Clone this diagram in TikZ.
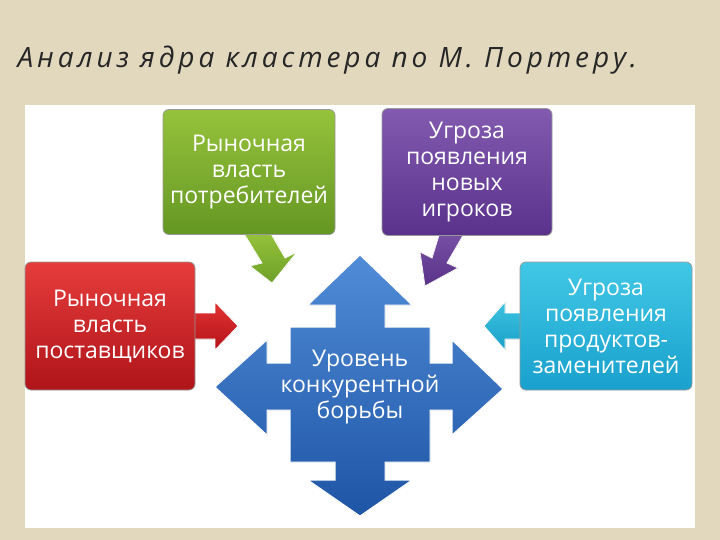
\documentclass[tikz,border=0pt]{standalone}
\usepackage{fontspec}
\setmainfont{Open Sans}
\begin{document}
\begin{tikzpicture}[x=1pt,y=-1pt,
 box/.style={rounded corners=6pt,draw=black!40,line width=0.8pt,text=white,align=center,font=\fontsize{23}{26}\selectfont,inner sep=1pt},
 blk/.style={draw=white,line width=0.8pt}]
\fill[color={rgb,255:red,226;green,216;blue,190}] (0,0) rectangle (720,540);
\fill[white] (25,105) rectangle (695,528);
\node[anchor=west,font=\itshape\fontsize{28}{32}\selectfont\addfontfeature{LetterSpace=14},text=black!85] (title) at (14,60) {Анализ ядра кластера по М. Портеру.};
% connector arrows
\fill[blk,top color={rgb,255:red,150;green,195;blue,60},bottom color={rgb,255:red,110;green,160;blue,40}] (243,232)--(270,232)--(285,258)--(297,252)--(272,283)--(250,266)--(262,263)--cycle;
\fill[blk,top color={rgb,255:red,120;green,80;blue,165},bottom color={rgb,255:red,90;green,50;blue,135}] (440,232)--(465,232)--(447,263)--(458,268)--(425,286)--(420,252)--(432,258)--cycle;
\fill[blk,top color={rgb,255:red,225;green,50;blue,50},bottom color={rgb,255:red,180;green,20;blue,25}] (192,313)--(215,313)--(215,302)--(238,326)--(215,350)--(215,339)--(192,339)--cycle;
\fill[blk,top color={rgb,255:red,60;green,195;blue,225},bottom color={rgb,255:red,25;green,160;blue,200}] (523,313)--(505,313)--(505,302)--(484,326)--(505,350)--(505,339)--(523,339)--cycle;
% cross
\fill[draw=white,line width=1pt,top color={rgb,255:red,80;green,140;blue,215},bottom color={rgb,255:red,30;green,85;blue,165}]
 (360,255)--(412,305)--(385,305)--(385,327)--(430,327)--(430,363)--(452,363)--(452,340)--(503,389)--(452,435)--(452,410)--(430,410)--(430,462)--(385,462)--(385,480)--(412,480)--(360,516)--(308,480)--(335,480)--(335,462)--(290,462)--(290,410)--(267,410)--(267,435)--(215,387)--(267,340)--(267,363)--(290,363)--(290,327)--(335,327)--(335,305)--(308,305)--cycle;
\node[text=white,align=center,font=\fontsize{23}{26}\selectfont] (core) at (360,387) {Уровень\\конкурентной\\борьбы};
% boxes
\node[box,minimum width=172pt,minimum height=125pt,top color={rgb,255:red,150;green,195;blue,60},bottom color={rgb,255:red,100;green,150;blue,35}] (buy) at (249,172) {Рыночная\\власть\\потребителей};
\node[box,minimum width=170pt,minimum height=127pt,top color={rgb,255:red,130;green,90;blue,175},bottom color={rgb,255:red,90;green,50;blue,140}] (new) at (467,172) {Угроза\\появления\\новых\\игроков};
\node[box,minimum width=170pt,minimum height=128pt,top color={rgb,255:red,230;green,60;blue,60},bottom color={rgb,255:red,175;green,20;blue,25}] (sup) at (110,326) {Рыночная\\власть\\поставщиков};
\node[box,minimum width=172pt,minimum height=128pt,top color={rgb,255:red,65;green,200;blue,230},bottom color={rgb,255:red,25;green,160;blue,205}] (sub) at (606,326) {Угроза\\появления\\продуктов-\\заменителей};
\end{tikzpicture}
\end{document}
